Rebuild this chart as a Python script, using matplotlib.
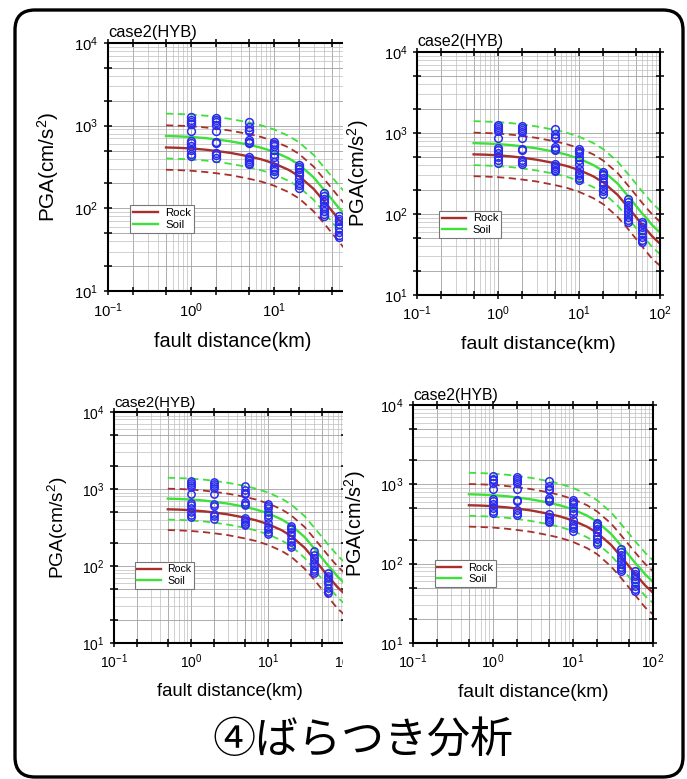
import matplotlib
matplotlib.use("Agg")
import matplotlib.pyplot as plt
from matplotlib.patches import Rectangle, FancyBboxPatch
from matplotlib.ticker import LogLocator, LogFormatterSciNotation, NullFormatter

plt.rcParams['font.family'] = ['Liberation Sans', 'DejaVu Sans']
plt.rcParams['mathtext.fontset'] = 'custom'
plt.rcParams['mathtext.rm'] = 'Liberation Sans'
plt.rcParams['mathtext.it'] = 'Liberation Sans:italic'

# attenuation curves
dist = [0.5, 0.7, 1, 1.5, 2, 3, 5, 7, 10, 15, 20, 30, 40, 50, 60, 70, 80, 100]
rock_med = [545, 540, 530, 512, 495, 468, 425, 392, 350, 292, 245, 172, 122, 93, 74, 62, 53, 43]
rock_hi = [1010, 1000, 985, 950, 920, 870, 790, 730, 650, 545, 455, 320, 227, 173, 138, 115, 99, 80]
rock_lo = [293, 290, 285, 275, 266, 252, 228, 211, 188, 157, 132, 92, 66, 50, 40, 33, 28, 23]
soil_med = [750, 742, 730, 707, 683, 646, 587, 541, 483, 403, 338, 237, 168, 128, 102, 86, 73, 59]
soil_hi = [1400, 1385, 1365, 1320, 1275, 1205, 1095, 1010, 900, 752, 630, 443, 314, 240, 191, 160, 137, 110]
soil_lo = [401, 397, 390, 378, 365, 345, 314, 289, 258, 215, 181, 127, 90, 68, 55, 46, 39, 32]

# observed PGA at each fault distance
obs_dist = [1, 2, 5, 10, 20, 40, 60]
obs_pga = [
    [1260, 1180, 1120, 1050, 870, 660, 620, 570, 510, 460, 430],
    [1230, 1160, 1100, 1030, 870, 630, 610, 470, 440, 410],
    [1110, 960, 880, 860, 670, 640, 620, 420, 390, 370, 350, 340],
    [640, 600, 560, 510, 460, 420, 360, 320, 300, 280, 260],
    [330, 315, 300, 275, 250, 225, 205, 190, 175],
    [155, 140, 128, 118, 108, 100, 92, 85, 80],
    [80, 75, 70, 64, 58, 52, 48, 45],
]

rock_c = '#a8302c'
soil_c = '#3ee03a'
obs_c = '#2b2bf0'

W, H = 687, 779
fig = plt.figure(figsize=(W / 100, H / 100), dpi=100)
fig.patch.set_facecolor('white')


def box(x0, x1, y0, y1):
    return [x0 / W, 1 - y1 / H, (x1 - x0) / W, (y1 - y0) / H]


def draw_panel(ax, s):
    ax.set_xscale('log')
    ax.set_yscale('log')
    for axis in (ax.xaxis, ax.yaxis):
        axis.set_major_locator(LogLocator(base=10, subs=(1, 2, 5), numticks=20))
        axis.set_major_formatter(LogFormatterSciNotation(labelOnlyBase=True))
        axis.set_minor_locator(LogLocator(base=10, subs=(3, 4, 6, 7, 8, 9), numticks=20))
        axis.set_minor_formatter(NullFormatter())
    ax.set_xlim(0.1, 100)
    ax.set_ylim(10, 1e4)
    ax.grid(True, which='major', color='#a0a0a0', lw=0.6)
    ax.grid(True, which='minor', color='#bdbdbd', lw=0.5)
    ax.set_axisbelow(True)
    ax.tick_params(which='major', direction='inout', length=6 * s, width=1.1,
                   top=True, right=True, labelsize=10.5 * s, pad=4 * s)
    ax.tick_params(which='minor', length=0)
    for sp in ax.spines.values():
        sp.set_linewidth(1.5)

    ax.plot(dist, rock_med, color=rock_c, lw=1.7, label='Rock')
    ax.plot(dist, rock_hi, color=rock_c, lw=1.3, ls=(0, (4, 2.5)))
    ax.plot(dist, rock_lo, color=rock_c, lw=1.3, ls=(0, (4, 2.5)))
    ax.plot(dist, soil_med, color=soil_c, lw=1.7, label='Soil')
    ax.plot(dist, soil_hi, color=soil_c, lw=1.3, ls=(0, (4, 2.5)))
    ax.plot(dist, soil_lo, color=soil_c, lw=1.3, ls=(0, (4, 2.5)))
    for d, vals in zip(obs_dist, obs_pga):
        ax.plot([d] * len(vals), vals, 'o', mfc='none', mec=obs_c, ms=5.5 * s, mew=1.1)

    leg = ax.legend(loc='lower left', bbox_to_anchor=(0.09, 0.235), fontsize=8 * s,
                    handlelength=2.2, handletextpad=0.6, labelspacing=0.15,
                    borderpad=0.25, fancybox=False, framealpha=1, borderaxespad=0)
    leg.get_frame().set_edgecolor('#777777')
    leg.get_frame().set_linewidth(0.8)

    ax.set_xlabel('fault distance(km)', fontsize=14 * s, labelpad=9 * s)
    ax.set_ylabel('PGA(cm/s$^2$)', fontsize=14.5 * s, labelpad=9 * s)
    ax.set_title('case2(HYB)', loc='left', fontsize=11.5 * s, pad=4 * s)


# left panels first, then white covers, then right panels on top
ax_tl = fig.add_axes(box(108, 357, 43, 291), zorder=0)
draw_panel(ax_tl, 83 / 81)
ax_bl = fig.add_axes(box(114, 345, 412, 643), zorder=0)
draw_panel(ax_bl, 77 / 81)

for y0, y1 in ((14, 372), (378, 706)):
    fig.add_artist(Rectangle((343 / W, 1 - y1 / H), (681 - 343) / W, (y1 - y0) / H,
                             transform=fig.transFigure, facecolor='white',
                             edgecolor='none', zorder=1))

ax_tr = fig.add_axes(box(417, 660, 52, 295), zorder=2)
draw_panel(ax_tr, 1.0)
ax_br = fig.add_axes(box(413, 653, 405, 643), zorder=2)
draw_panel(ax_br, 80 / 81)

# rounded outer frame
frame = FancyBboxPatch((15 / 100, (H - 777) / 100), (683 - 15) / 100, (777 - 10) / 100,
                       boxstyle='round,pad=0,rounding_size=0.2',
                       transform=fig.dpi_scale_trans, facecolor='none',
                       edgecolor='black', lw=2.4, zorder=5)
fig.add_artist(frame)

fig.text(363 / W, 1 - 742 / H, '④ばらつき分析', ha='center', va='center',
         fontsize=31, family=['Noto Sans CJK JP', 'DejaVu Sans'], zorder=6)

fig.savefig('out.png', dpi=100)
